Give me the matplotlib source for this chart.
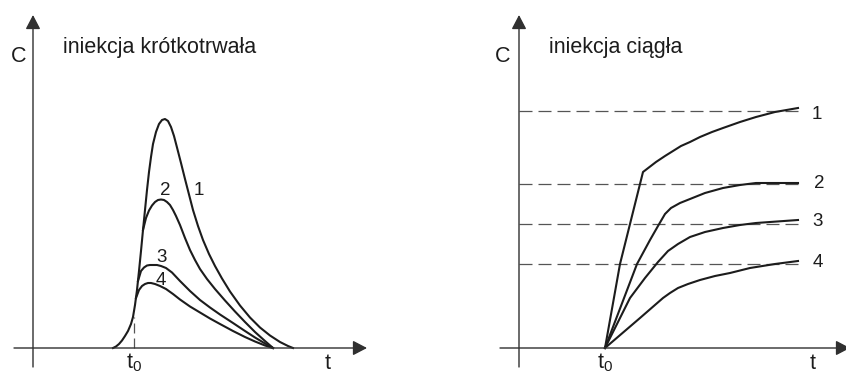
import numpy as np
import matplotlib
matplotlib.use("Agg")
import matplotlib.pyplot as plt

plt.rcParams['font.family'] = ['Liberation Sans', 'DejaVu Sans']
plt.rcParams['mathtext.fontset'] = 'custom'
plt.rcParams['mathtext.rm'] = 'Liberation Sans'
plt.rcParams['mathtext.it'] = 'Liberation Sans'

# --- left panel: short injection (iniekcja krótkotrwała) ---
rise_t = [80, 83, 86, 89, 92, 95, 98, 100, 102, 104, 106, 108, 110, 112, 114,
          116, 118, 120, 123, 126, 129, 132]
rise_c = [0, 1.5, 4, 7.5, 12, 17, 24, 31, 43, 58, 77, 97, 118, 138, 158,
          176, 191, 204, 216, 224, 228, 229]

c1_t = rise_t + [135, 138, 141, 144, 148, 152, 156, 160, 165, 170, 176, 182,
                 189, 197, 207, 217, 227, 237, 247, 255, 260]
c1_c = rise_c + [227, 221, 212, 200.5, 185, 169, 153.5, 138, 122, 108, 94, 82,
                 69.5, 56.5, 42.5, 30.5, 20.5, 12.5, 6, 2, 0]
c2_t = [110, 113, 116, 119, 122, 125, 128, 131, 134, 137, 140, 143, 147, 152,
        157, 162, 167, 174, 182, 192, 202, 212, 222, 232, 240]
c2_c = [118, 130, 137.5, 142.5, 146, 148, 148.5, 148, 146, 143, 138, 132, 123,
        110, 98, 88, 79, 69, 59, 47.5, 36.5, 26, 16, 7, 0]
c3_t = [105, 108, 111, 114, 117, 120, 124, 128, 133, 139, 147, 157, 167, 177,
        187, 200, 212, 222, 232, 240]
c3_c = [67, 77, 80.5, 82.5, 83, 83, 83, 82, 80, 75.5, 67, 57, 48, 40.5,
        33.5, 25, 17, 10.5, 4.5, 0]
c4_t = [103, 106, 109, 112, 115, 118, 122, 127, 133, 140, 147, 157, 167, 177,
        187, 200, 212, 222, 232, 240]
c4_c = [50, 58, 62, 64, 65, 65, 64, 62, 59, 54, 48.5, 41.5, 35.5, 29.5,
        24, 17, 11, 6.5, 2.5, 0]
short_curves = [(c1_t, c1_c), (c2_t, c2_c), (c3_t, c3_c), (c4_t, c4_c)]
short_labels = ['1', '2', '3', '4']
short_label_pos = [(166, 153), (132, 153), (129, 86), (128, 63)]
t0_short = 101

# --- right panel: continuous injection (iniekcja ciągła) ---
k1_t = [86, 101, 111, 121, 124, 137, 146, 154, 162, 171, 181, 193, 204,
        221, 237, 256, 279]
k1_c = [0, 84, 124, 164, 176, 186, 192, 197, 202, 206, 211, 216, 220,
        226, 231, 236, 240]
k2_t = [86, 118, 131, 139, 146, 152, 161, 171, 186, 204, 221, 237, 279]
k2_c = [0, 84, 108, 122, 134, 140, 145, 149, 155, 160, 163, 165, 165]
k3_t = [86, 111, 126, 139, 149, 159, 171, 186, 204, 221, 237, 279]
k3_c = [0, 50, 70, 86, 97, 104, 111, 116, 120, 123, 125, 128]
k4_t = [86, 121, 144, 151, 159, 169, 181, 196, 211, 231, 256, 279]
k4_c = [0, 30, 50, 55, 60, 64, 68, 72, 75, 80, 84, 87]
cont_curves = [(k1_t, k1_c), (k2_t, k2_c), (k3_t, k3_c), (k4_t, k4_c)]
cont_levels = [237, 164, 124, 84]
cont_labels = ['1', '2', '3', '4']
cont_label_pos = [(298, 229), (300, 160), (299, 122), (299, 81)]
t0_cont = 86

AX = '#303030'
LN = '#1c1c1c'

fig = plt.figure(figsize=(8.46, 3.74), dpi=100)
ax1 = fig.add_axes([0, 0, 0.5, 1])
ax2 = fig.add_axes([0.5, 0, 0.5, 1])
ax1.set_xlim(-33, 390)
ax2.set_xlim(-96, 327)
for ax in (ax1, ax2):
    ax.set_ylim(-26, 348)
    ax.axis('off')


def draw_axes(ax, x_start, x_end):
    arrow = dict(arrowstyle='-|>,head_length=0.86,head_width=0.45',
                 mutation_scale=10, lw=1.0, color=AX, shrinkA=0, shrinkB=0)
    ax.annotate('', xy=(0, 333), xytext=(0, -19), arrowprops=arrow,
                annotation_clip=False)
    ax.annotate('', xy=(x_end, 0), xytext=(x_start, 0), arrowprops=arrow,
                annotation_clip=False)


draw_axes(ax1, -19, 334)
draw_axes(ax2, -19, 331)

# left panel
ax1.plot([t0_short, t0_short], [0, 31], color='#555555', lw=0.9,
         dashes=(8, 4))
for (t, c) in short_curves:
    ax1.plot(t, c, color=LN, lw=1.5, solid_joinstyle='round')
for lab, (x, y) in zip(short_labels, short_label_pos):
    ax1.text(x, y, lab, fontsize=13.5, ha='center', va='baseline', color=LN)
ax1.text(-14.5, 286, 'C', fontsize=15.5, ha='center', va='baseline', color=LN)
ax1.text(30, 295, 'iniekcja krótkotrwała', fontsize=15.5, ha='left',
         va='baseline', color=LN)
ax1.text(t0_short, -20, r'$\mathrm{t_0}$', fontsize=15.5, ha='center',
         va='baseline', color=LN)
ax1.text(295, -21, 't', fontsize=15.5, ha='center', va='baseline', color=LN)

# right panel
for lvl in cont_levels:
    ax2.plot([0, 279], [lvl, lvl], color='#555555', lw=0.9, dashes=(10.4, 4.8))
for (t, c) in cont_curves:
    ax2.plot(t, c, color=LN, lw=1.5, solid_joinstyle='round')
for lab, (x, y) in zip(cont_labels, cont_label_pos):
    ax2.text(x, y, lab, fontsize=13.5, ha='center', va='baseline', color=LN)
ax2.text(-16, 286, 'C', fontsize=15.5, ha='center', va='baseline', color=LN)
ax2.text(30, 295, 'iniekcja ciągła', fontsize=15.5, ha='left',
         va='baseline', color=LN)
ax2.text(t0_cont, -20, r'$\mathrm{t_0}$', fontsize=15.5, ha='center',
         va='baseline', color=LN)
ax2.text(294, -21, 't', fontsize=15.5, ha='center', va='baseline', color=LN)

fig.savefig('out.png', dpi=100)
